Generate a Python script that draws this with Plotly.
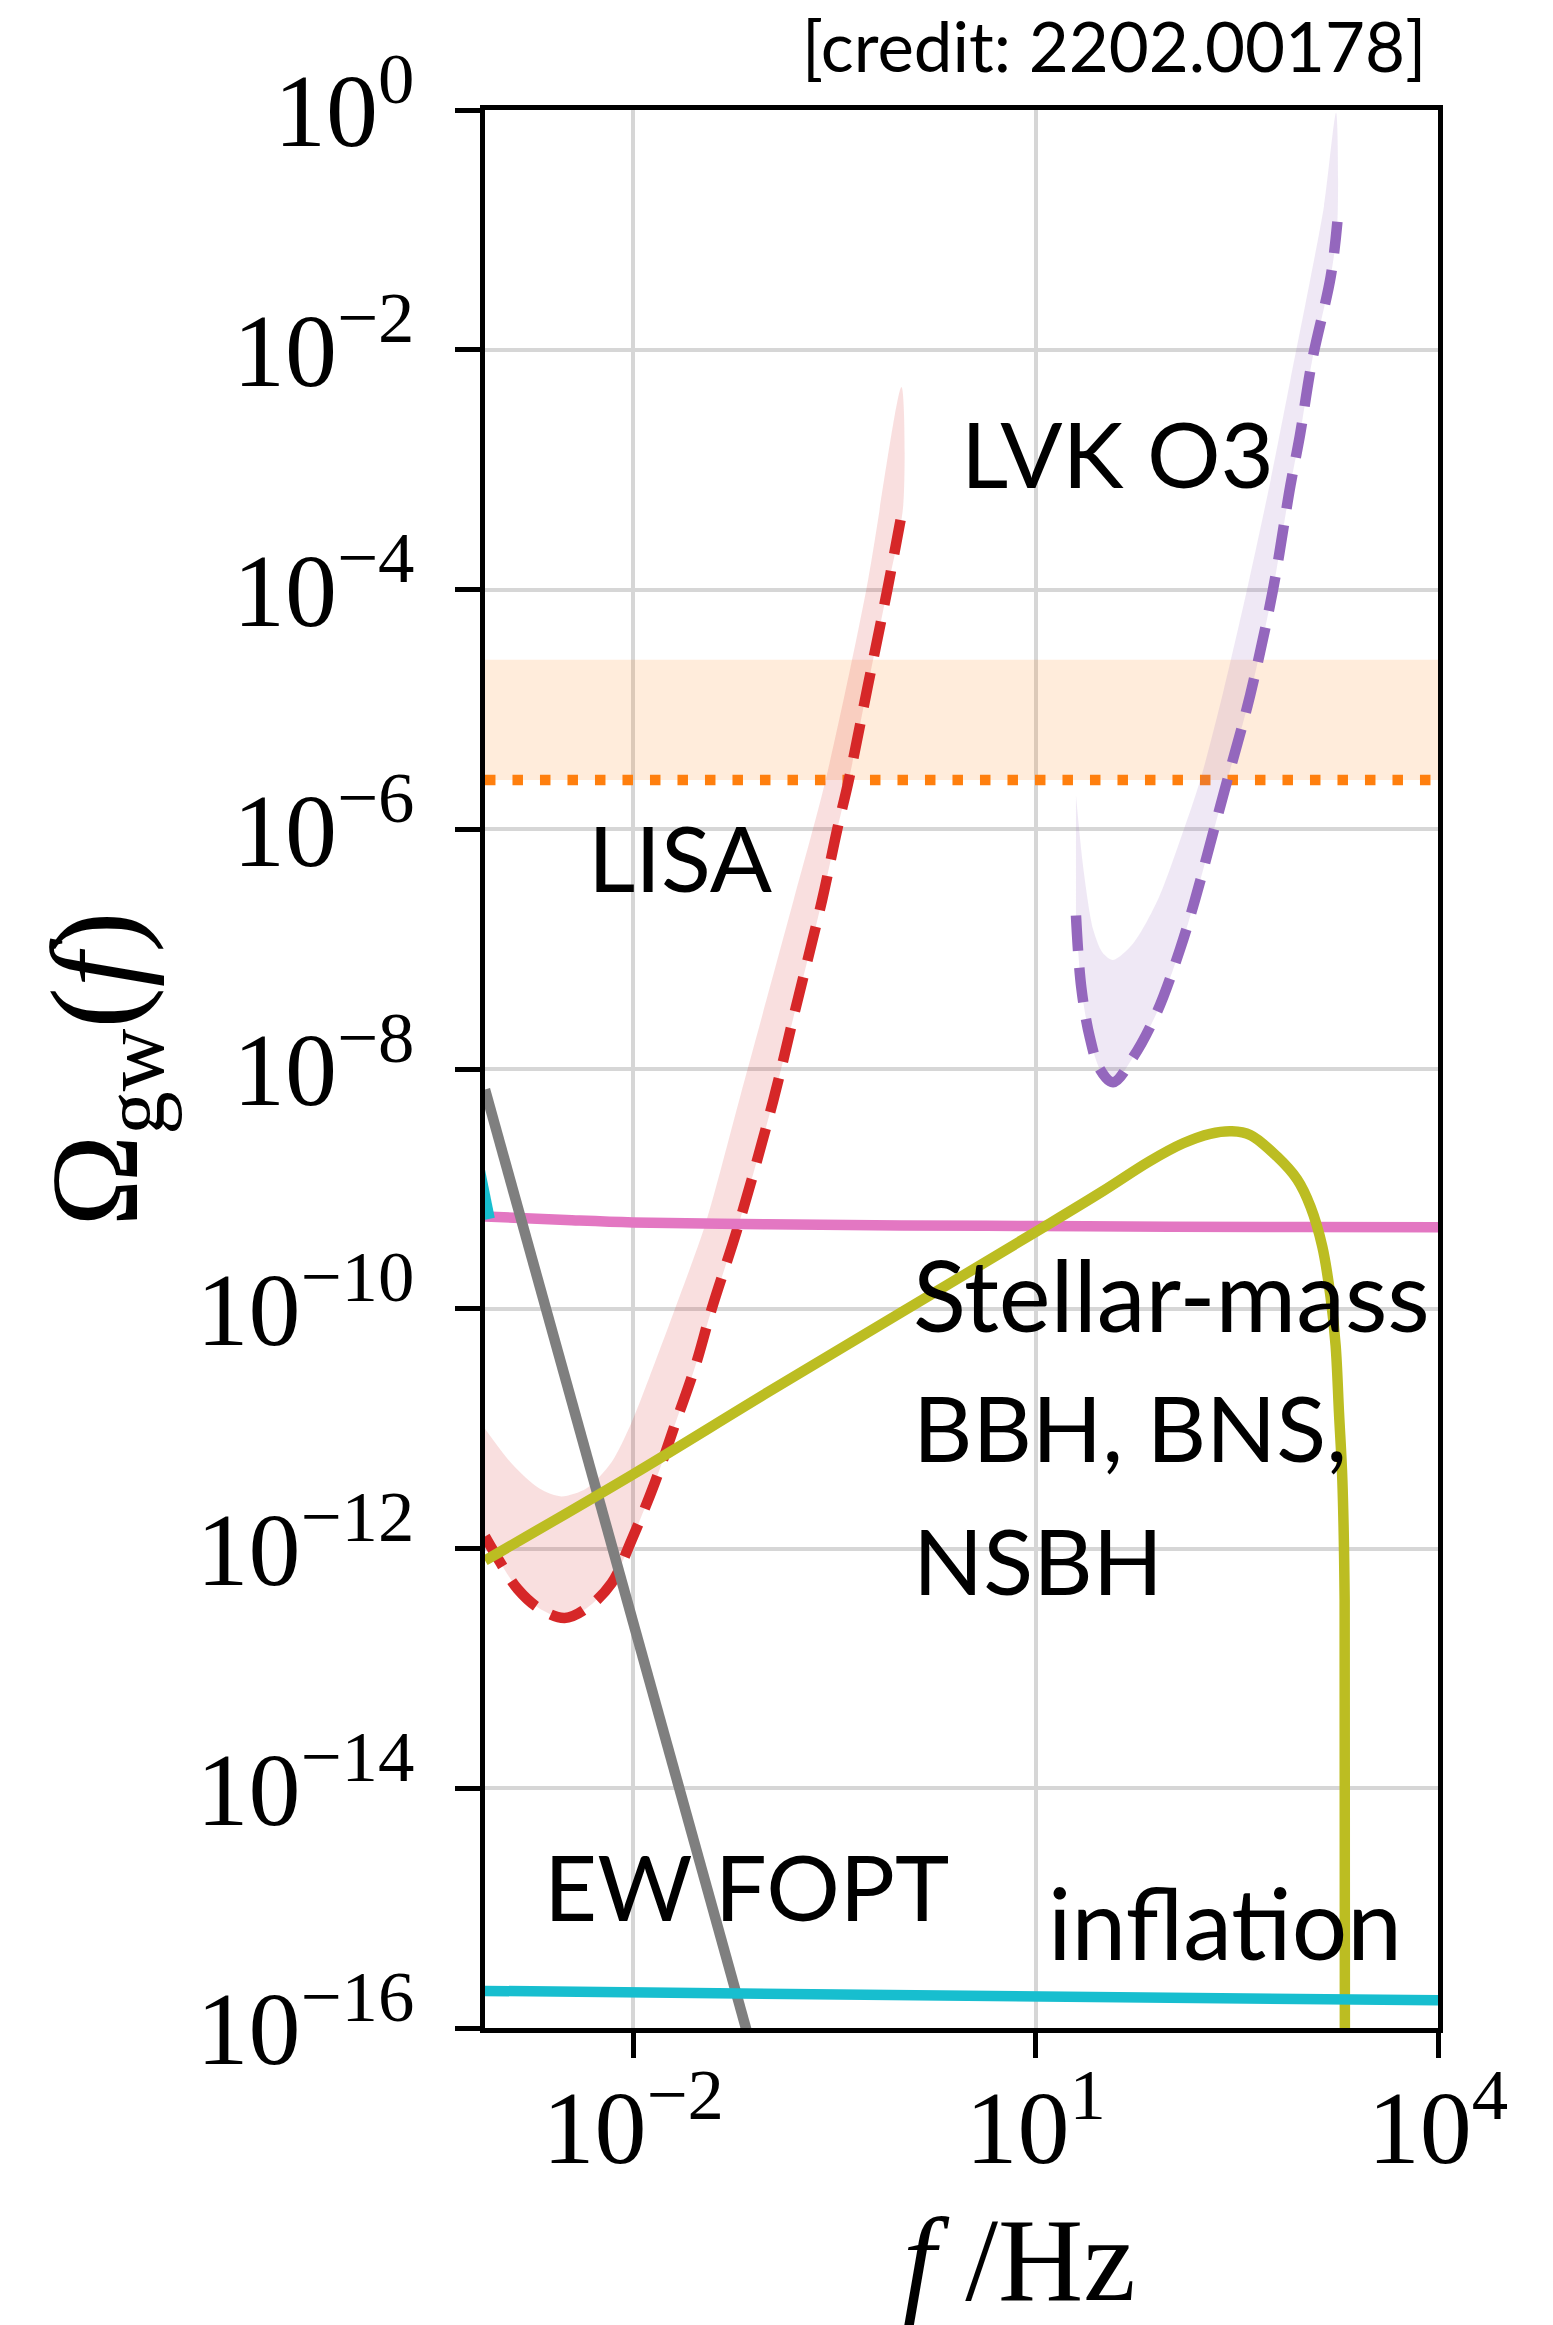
import plotly.graph_objects as go

# ---------------- data ----------------
# LISA sensitivity (lower curve = dashed line) and upper edge of its band
lisa_f = [7.85e-4, 1.0e-3, 1.38e-3, 2.0e-3, 3.08e-3, 4.47e-3, 6.89e-3, 9.7e-3, 1.45e-2, 2.0e-2,
          2.9e-2, 3.85e-2, 6.1e-2, 0.111, 0.158, 0.256, 0.332, 0.405, 0.562, 0.785, 1.03]
lisa_omega = [1.26e-12, 7.94e-13, 4.57e-13, 3.16e-13, 2.63e-13, 3.16e-13, 5.13e-13, 1.17e-12, 3.55e-12, 1.0e-11,
              3.31e-11, 1.0e-10, 5.01e-10, 5.53e-9, 2.82e-8, 2.57e-7, 1.0e-6, 2.58e-6, 1.58e-5, 1.0e-4, 5.0e-4]
lisa_up_f = [7.85e-4, 1.26e-3, 2.0e-3, 2.91e-3, 4.47e-3, 6.89e-3, 9.7e-3, 1.45e-2, 2.05e-2, 3.44e-2, 6.31e-2,
             0.157, 0.272, 0.547, 1.0]
lisa_up_omega = [1.0e-11, 5.01e-12, 3.16e-12, 2.72e-12, 3.16e-12, 5.25e-12, 1.12e-11, 3.55e-11, 1.0e-10, 5.01e-10,
                 6.03e-9, 2.57e-7, 2.58e-6, 1.0e-4, 4.9e-3]

# LVK O3 sensitivity (dashed) and upper edge of its band
lvk_f = [20.0, 21.9, 25.4, 30.1, 37.8, 53.5, 80.0, 119.4, 155, 214, 269, 398, 589, 794, 933, 1148, 1585, 1778]
lvk_omega = [1.91e-7, 4.79e-8, 1.82e-8, 1.0e-8, 7.76e-9, 1.26e-8, 2.95e-8, 1.0e-7, 2.63e-7, 1.0e-6, 2.58e-6,
             1.32e-5, 1.0e-4, 7.41e-4, 1.91e-3, 7.94e-3, 4.07e-2, 0.117]
lvk_up_f = [20.0, 22.6, 26.9, 31.6, 37.8, 53.5, 82.2, 123, 169, 251, 377, 562, 794, 1122, 1413, 1738]
lvk_up_omega = [1.91e-6, 4.9e-7, 1.45e-7, 9.33e-8, 8.13e-8, 1.12e-7, 2.63e-7, 8.91e-7, 2.58e-6, 1.41e-5, 1.0e-4,
                7.94e-4, 5.62e-3, 3.98e-2, 0.158, 0.95]

# LVK O3 bound (orange dotted line) and band above it
bound_f = [7.85e-4, 1.0e4]
bound_omega = [2.58e-6, 2.58e-6]
bound_top_omega = [2.59e-5, 2.59e-5]

# flat pink curve
pink_f = [7.85e-4, 3.16e-3, 1e-2, 0.1, 1, 10, 100, 1000, 1e4]
pink_omega = [5.89e-10, 5.5e-10, 5.25e-10, 5.07e-10, 4.95e-10, 4.9e-10, 4.84e-10, 4.81e-10, 4.79e-10]

# EW FOPT (grey)
ew_f = [7.85e-4, 7.94e-2]
ew_omega = [6.76e-9, 5.75e-17]

# stellar-mass compact binaries (olive)
cbc_f = [7.85e-4, 1e-2, 0.1, 1, 10, 31.6, 70.8, 126, 200, 291, 398, 631, 891, 1122, 1371, 1581, 1726, 1828,
         1936, 2014, 2023]
cbc_omega = [7.94e-13, 4.17e-12, 2.0e-11, 9.33e-11, 4.37e-10, 9.55e-10, 1.7e-9, 2.4e-9, 2.88e-9, 3.02e-9, 2.82e-9,
             1.86e-9, 1.2e-9, 7.08e-10, 3.31e-10, 1.26e-10, 4.9e-11, 1.35e-11, 3.72e-12, 3.72e-13, 3.16e-17]

# inflation (cyan) and short cyan piece at the left edge
infl_f = [7.85e-4, 1.0e4]
infl_omega = [2.04e-16, 1.70e-16]
cyan_piece_f = [7.2e-4, 8.5e-4]
cyan_piece_omega = [1.41e-9, 5.62e-10]

# ticks
x_tickvals = [1e-2, 1e1, 1e4]
x_ticktext = ["10<sup>\u22122</sup>", "10<sup>1</sup>", "10<sup>4</sup>"]
y_tickvals = [1e0, 1e-2, 1e-4, 1e-6, 1e-8, 1e-10, 1e-12, 1e-14, 1e-16]
y_ticktext = ["10<sup>0</sup>", "10<sup>\u22122</sup>", "10<sup>\u22124</sup>", "10<sup>\u22126</sup>",
              "10<sup>\u22128</sup>", "10<sup>\u221210</sup>", "10<sup>\u221212</sup>",
              "10<sup>\u221214</sup>", "10<sup>\u221216</sup>"]

# ---------------- styling ----------------
RED = "#d62728"
PURPLE = "#9467bd"
ORANGE = "#ff7f0e"
PINK = "#e377c2"
GRAY = "#7f7f7f"
OLIVE = "#bcbd22"
CYAN = "#17becf"
LW = 10.5
DASH = "35px,17px"
DOT = "10.5px,17px"
SANS = "Lato, 'Open Sans', sans-serif"
MATH_FONT = "Liberation Serif, 'DejaVu Serif', serif"

fig = go.Figure()

# orange band + dotted bound
fig.add_trace(go.Scatter(x=bound_f + bound_f[::-1], y=bound_top_omega + bound_omega[::-1],
                         fill="toself", fillcolor="rgba(255,127,14,0.15)", line=dict(width=0),
                         mode="lines", hoverinfo="skip", showlegend=False))
fig.add_trace(go.Scatter(x=bound_f, y=bound_omega, mode="lines",
                         line=dict(color=ORANGE, width=LW, dash=DOT), showlegend=False))

# LISA band + dashed
fig.add_trace(go.Scatter(x=lisa_up_f + lisa_f[::-1], y=lisa_up_omega + lisa_omega[::-1],
                         fill="toself", fillcolor="rgba(214,39,40,0.15)",
                         line=dict(width=0, shape="spline", smoothing=0.8),
                         mode="lines", hoverinfo="skip", showlegend=False))
fig.add_trace(go.Scatter(x=lisa_f, y=lisa_omega, mode="lines",
                         line=dict(color=RED, width=LW, dash=DASH, shape="spline"), showlegend=False))

# LVK band + dashed
fig.add_trace(go.Scatter(x=lvk_up_f + lvk_f[::-1], y=lvk_up_omega + lvk_omega[::-1],
                         fill="toself", fillcolor="rgba(148,103,189,0.15)",
                         line=dict(width=0, shape="spline", smoothing=0.8),
                         mode="lines", hoverinfo="skip", showlegend=False))
fig.add_trace(go.Scatter(x=lvk_f, y=lvk_omega, mode="lines",
                         line=dict(color=PURPLE, width=LW, dash=DASH, shape="spline"), showlegend=False))

# other curves
fig.add_trace(go.Scatter(x=pink_f, y=pink_omega, mode="lines",
                         line=dict(color=PINK, width=LW, shape="spline"), showlegend=False))
fig.add_trace(go.Scatter(x=ew_f, y=ew_omega, mode="lines", line=dict(color=GRAY, width=LW),
                         showlegend=False))
fig.add_trace(go.Scatter(x=cbc_f, y=cbc_omega, mode="lines",
                         line=dict(color=OLIVE, width=LW, shape="spline"), showlegend=False))
fig.add_trace(go.Scatter(x=infl_f, y=infl_omega, mode="lines", line=dict(color=CYAN, width=LW),
                         showlegend=False))
fig.add_trace(go.Scatter(x=cyan_piece_f, y=cyan_piece_omega, mode="lines", line=dict(color=CYAN, width=LW),
                         showlegend=False))

axis_common = dict(
    type="log", showline=True, linecolor="black", linewidth=4.7, mirror=True,
    ticks="outside", ticklen=25, tickwidth=4.7, tickcolor="black",
    showgrid=True, gridcolor="#d6d6d6", gridwidth=3.5, zeroline=False,
    tickmode="array", tickfont=dict(family=MATH_FONT, size=104, color="black"),
)
fig.update_xaxes(range=[-3.105, 4.0], tickvals=x_tickvals, ticktext=x_ticktext,
                 ticklabelstandoff=-20, **axis_common)
fig.update_yaxes(range=[-16, 0], tickvals=y_tickvals, ticktext=y_ticktext,
                 ticklabelstandoff=20, **axis_common)

# text labels: (text, log10 f of left edge, log10 Omega of middle, font size)
annotations = [
    ("LVK O3", 0.432, -2.861, 92),
    ("LISA", -2.352, -6.23, 92),
    ("Stellar-mass", 0.069, -9.875, 98),
    ("BBH, BNS,", 0.069, -10.985, 92),
    ("NSBH", 0.069, -12.095, 92),
    ("EW FOPT", -2.68, -14.815, 92),
    ("inflation", 1.075, -15.115, 98),
]
for text, ax, ay, size in annotations:
    fig.add_annotation(text=text, x=ax, y=ay, xref="x", yref="y",
                       xanchor="left", yanchor="middle", showarrow=False,
                       font=dict(family=SANS, size=size, color="black"))

fig.add_annotation(text="[credit: 2202.00178]", x=0.6597, y=1.0335, xref="paper", yref="paper",
                   xanchor="center", yanchor="middle", showarrow=False,
                   font=dict(family=SANS, size=69, color="black"))
fig.add_annotation(text="<i>f</i> /Hz", x=0.561, y=-0.121, xref="paper", yref="paper",
                   xanchor="center", yanchor="middle", showarrow=False,
                   font=dict(family=MATH_FONT, size=118, color="black"))
fig.add_annotation(text="\u03a9<sub>gw</sub>(<i>f</i>)", x=-0.40, y=0.5, xref="paper", yref="paper",
                   xanchor="center", yanchor="middle", showarrow=False, textangle=-90,
                   font=dict(family=MATH_FONT, size=124, color="black"))

fig.update_layout(
    width=1553, height=2325,
    margin=dict(l=485, r=115, t=110, b=297),
    paper_bgcolor="white", plot_bgcolor="white",
    showlegend=False,
)

fig.write_html("out.html")
